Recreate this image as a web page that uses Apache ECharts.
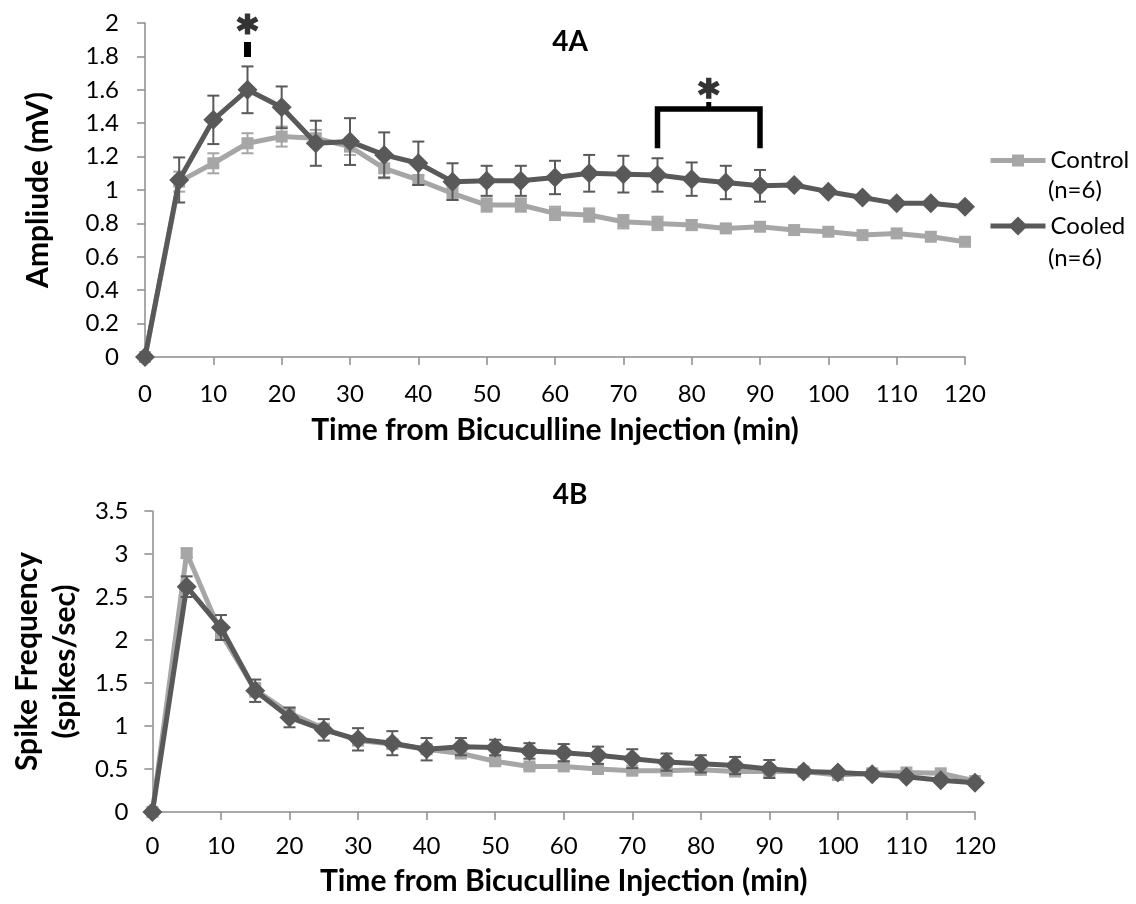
<!DOCTYPE html>
<html>
<head>
<meta charset="utf-8">
<title>4A / 4B</title>
<script src="https://cdn.jsdelivr.net/npm/echarts@6/dist/echarts.min.js"></script>
<style>
  html, body { margin: 0; padding: 0; background: #fff; }
  #chart { width: 1136px; height: 904px; }
</style>
</head>
<body>
<div id="chart"></div>
<script>
// time from injection (min)
var times = [0, 5, 10, 15, 20, 25, 30, 35, 40, 45, 50, 55, 60, 65, 70, 75, 80, 85, 90, 95, 100, 105, 110, 115, 120];

// 4A amplitude (mV)
var ampControl    = [0, 1.05, 1.16, 1.28, 1.32, 1.31, 1.26, 1.13, 1.06, 0.98, 0.91, 0.91, 0.86, 0.85, 0.81, 0.80, 0.79, 0.77, 0.78, 0.76, 0.75, 0.73, 0.74, 0.72, 0.69];
var ampControlErr = [0, 0.06, 0.06, 0.06, 0.06, 0.05, 0.05, 0.06, 0.03, 0.04, 0.04, 0.04, 0.04, 0.04, 0.04, 0.04, 0.03, 0.02, 0.02, 0, 0, 0, 0, 0, 0];
var ampCooled     = [0, 1.06, 1.42, 1.60, 1.495, 1.28, 1.29, 1.21, 1.16, 1.05, 1.055, 1.055, 1.075, 1.10, 1.095, 1.09, 1.065, 1.045, 1.025, 1.03, 0.99, 0.955, 0.92, 0.92, 0.90];
var ampCooledErr  = [0, 0.135, 0.145, 0.14, 0.125, 0.135, 0.14, 0.135, 0.13, 0.11, 0.09, 0.09, 0.10, 0.11, 0.11, 0.10, 0.10, 0.10, 0.095, 0, 0, 0, 0, 0, 0];

// 4B spike frequency (spikes/sec)
var freqControl    = [0, 3.01, 2.08, 1.42, 1.15, 0.97, 0.83, 0.79, 0.73, 0.68, 0.59, 0.53, 0.53, 0.50, 0.48, 0.48, 0.49, 0.47, 0.47, 0.47, 0.43, 0.45, 0.46, 0.45, 0.36];
var freqControlErr = [0, 0.05, 0.08, 0.08, 0.06, 0.05, 0.05, 0.05, 0.04, 0.04, 0.04, 0.03, 0.03, 0.03, 0.03, 0.03, 0.03, 0.03, 0.03, 0, 0, 0, 0, 0, 0];
var freqCooled     = [0, 2.62, 2.145, 1.41, 1.10, 0.955, 0.845, 0.80, 0.73, 0.76, 0.75, 0.71, 0.69, 0.66, 0.62, 0.58, 0.56, 0.54, 0.50, 0.47, 0.46, 0.44, 0.41, 0.37, 0.34];
var freqCooledErr  = [0, 0.12, 0.145, 0.13, 0.115, 0.125, 0.13, 0.14, 0.13, 0.10, 0.09, 0.09, 0.10, 0.10, 0.11, 0.10, 0.10, 0.10, 0.105, 0, 0, 0, 0, 0, 0];

// significance marks on 4A (data coords)
var starPoints   = [[15, 1.994], [82.5, 1.61]];
var starStem     = [[15, 1.796], [15, 1.886]];
var bracketPath  = [[75, 1.25], [75, 1.485], [90, 1.485], [90, 1.25]];
var bracketNotch = [[82.5, 1.485], [82.5, 1.527]];

var FONT = 'Lato';
var AXIS_GRAY = '#8c8c8c';
var C_CONTROL = '#a6a6a6';
var C_COOLED = '#595959';

// 6-armed asterisk, thick arms
var STAR = 'path://M38,0L62,0L62,100L38,100Z M87.3,14.6L99.3,35.4L12.7,85.4L0.7,64.6Z M12.7,14.6L99.3,64.6L87.3,85.4L0.7,35.4Z';

function pairs(ys) {
  return times.map(function (t, i) { return [t, ys[i]]; });
}

function errData(ys, es) {
  var out = [];
  times.forEach(function (t, i) {
    if (es[i] > 0) out.push([t, ys[i] - es[i], ys[i] + es[i]]);
  });
  return out;
}

function errorBars(idx, ys, es, color, z) {
  return {
    type: 'custom',
    xAxisIndex: idx,
    yAxisIndex: idx,
    silent: true,
    z: z,
    clip: false,
    encode: { x: 0, y: [1, 2] },
    data: errData(ys, es),
    renderItem: function (params, api) {
      var lo = api.coord([api.value(0), api.value(1)]);
      var hi = api.coord([api.value(0), api.value(2)]);
      var w = 6;
      var st = { stroke: color, lineWidth: 2 };
      return {
        type: 'group',
        children: [
          { type: 'line', shape: { x1: lo[0], y1: lo[1], x2: hi[0], y2: hi[1] }, style: st },
          { type: 'line', shape: { x1: lo[0] - w, y1: lo[1], x2: lo[0] + w, y2: lo[1] }, style: st },
          { type: 'line', shape: { x1: hi[0] - w, y1: hi[1], x2: hi[0] + w, y2: hi[1] }, style: st }
        ]
      };
    }
  };
}

function lineSeries(name, idx, ys, color, symbol, size, z) {
  return {
    name: name,
    type: 'line',
    xAxisIndex: idx,
    yAxisIndex: idx,
    data: pairs(ys),
    symbol: symbol,
    symbolSize: size,
    z: z,
    lineStyle: { color: color, width: 5 },
    itemStyle: { color: color },
    emphasis: { disabled: true }
  };
}

function xAxisCfg(idx, margin, gap) {
  return {
    type: 'value',
    gridIndex: idx,
    min: 0, max: 120, interval: 10,
    name: 'Time from Bicuculline Injection (min)',
    nameLocation: 'middle',
    nameGap: gap,
    nameTextStyle: { fontFamily: FONT, fontWeight: 'bold', fontSize: 30, color: '#000' },
    axisLine: { show: true, lineStyle: { color: AXIS_GRAY, width: 1.5 } },
    axisTick: { show: true, length: 8, lineStyle: { color: AXIS_GRAY, width: 1.5 } },
    axisLabel: { fontFamily: FONT, fontSize: 24, color: '#000', margin: margin },
    splitLine: { show: false }
  };
}

function yAxisCfg(idx, max, interval, name, gap, margin, lineHeight) {
  return {
    type: 'value',
    gridIndex: idx,
    min: 0, max: max, interval: interval,
    name: name,
    nameLocation: 'middle',
    nameGap: gap,
    nameTextStyle: { fontFamily: FONT, fontWeight: 'bold', fontSize: 30, color: '#000', lineHeight: lineHeight },
    axisLine: { show: true, lineStyle: { color: AXIS_GRAY, width: 1.5 } },
    axisTick: { show: true, length: 8, lineStyle: { color: AXIS_GRAY, width: 1.5 } },
    axisLabel: { fontFamily: FONT, fontSize: 24, color: '#000', margin: margin },
    splitLine: { show: false }
  };
}

function legendCfg(name, top, itemHeight) {
  return {
    orient: 'vertical',
    left: 988,
    top: top,
    padding: 0,
    itemWidth: 55,
    itemHeight: itemHeight,
    selectedMode: false,
    data: [name],
    lineStyle: { width: 5 },
    textStyle: { fontFamily: FONT, fontSize: 24, color: '#000' }
  };
}

var chart = echarts.init(document.getElementById('chart'), null, { renderer: 'canvas' });

chart.setOption({
  animation: false,
  backgroundColor: '#fff',
  grid: [
    { left: 145, top: 23, width: 820, height: 334 },
    { left: 147, top: 511, width: 828, height: 301 }
  ],
  xAxis: [xAxisCfg(0, 25, 58), xAxisCfg(1, 22, 54)],
  yAxis: [
    yAxisCfg(0, 2, 0.2, 'Ampliude (mV)', 89, 26, 36),
    yAxisCfg(1, 3.5, 0.5, 'Spike Frequency\n(spikes/sec)', 66, 24, 38)
  ],
  legend: [
    legendCfg('Control', 148.5, 15),
    legendCfg('Cooled', 214, 24)
  ],
  graphic: [
    { type: 'text', x: 570, y: 42, style: { text: '4A', align: 'center', verticalAlign: 'middle', font: 'bold 28px Lato', fill: '#000' } },
    { type: 'text', x: 570, y: 495, style: { text: '4B', align: 'center', verticalAlign: 'middle', font: 'bold 28px Lato', fill: '#000' } },
    { type: 'text', x: 1048, y: 190, style: { text: '(n=6)', align: 'left', verticalAlign: 'middle', font: '24px Lato', fill: '#000' } },
    { type: 'text', x: 1048, y: 258, style: { text: '(n=6)', align: 'left', verticalAlign: 'middle', font: '24px Lato', fill: '#000' } }
  ],
  series: [
    lineSeries('Control', 0, ampControl, C_CONTROL, 'rect', 12, 2),
    errorBars(0, ampControl, ampControlErr, C_CONTROL, 3),
    lineSeries('Cooled', 0, ampCooled, C_COOLED, 'diamond', 20, 4),
    errorBars(0, ampCooled, ampCooledErr, C_COOLED, 5),

    lineSeries('Control', 1, freqControl, C_CONTROL, 'rect', 12, 2),
    errorBars(1, freqControl, freqControlErr, C_CONTROL, 3),
    lineSeries('Cooled', 1, freqCooled, C_COOLED, 'diamond', 20, 4),
    errorBars(1, freqCooled, freqCooledErr, C_COOLED, 5),

    // significance annotations
    {
      type: 'line', xAxisIndex: 0, yAxisIndex: 0, silent: true, z: 6,
      data: bracketPath, symbol: 'none',
      lineStyle: { color: '#000', width: 5.5, cap: 'butt', join: 'miter' }
    },
    {
      type: 'line', xAxisIndex: 0, yAxisIndex: 0, silent: true, z: 6,
      data: bracketNotch, symbol: 'none',
      lineStyle: { color: '#000', width: 5, cap: 'butt' }
    },
    {
      type: 'line', xAxisIndex: 0, yAxisIndex: 0, silent: true, z: 6,
      data: starStem, symbol: 'none',
      lineStyle: { color: '#000', width: 7, cap: 'butt' }
    },
    {
      type: 'scatter', xAxisIndex: 0, yAxisIndex: 0, silent: true, z: 6,
      data: starPoints, symbol: STAR, symbolSize: [22, 21],
      itemStyle: { color: '#000' }
    }
  ]
});
</script>
</body>
</html>
